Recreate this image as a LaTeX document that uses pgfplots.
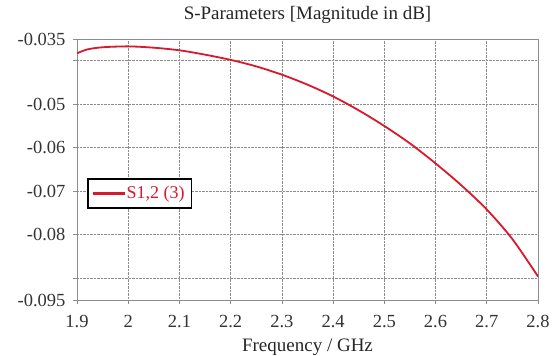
\documentclass[border=0pt]{standalone}
\usepackage{pgfplots}
\pgfplotsset{compat=1.18}
\usepackage{fontspec}
\setmainfont{Liberation Serif}
\definecolor{curvered}{RGB}{215,25,45}
\definecolor{gridgray}{RGB}{140,140,140}
\begin{document}
\fontsize{19}{22}\selectfont
\begin{tikzpicture}
\begin{axis}[
  scale only axis,
  width=461pt, height=261pt,
  xmin=1.9, xmax=2.8,
  ymin=-0.095, ymax=-0.035,
  scaled y ticks=false, scaled x ticks=false,
  xtick={1.9,2.0,2.1,2.2,2.3,2.4,2.5,2.6,2.7,2.8},
  xticklabels={1.9,2,2.1,2.2,2.3,2.4,2.5,2.6,2.7,2.8},
  ytick={-0.095,-0.09,-0.08,-0.07,-0.06,-0.05,-0.04,-0.035},
  yticklabels={-0.095,,-0.08,-0.07,-0.06,-0.05,,-0.035},
  /pgf/number format/assume math mode=true,
  tick label style={font=\fontsize{18.5}{22}\selectfont, text=black!80},
  xticklabel style={yshift=-5pt},
  yticklabel style={xshift=-1pt},
  tick align=outside,
  major tick length=4pt,
  tick style={gridgray, line width=0.6pt},
  axis line style={gridgray, line width=0.8pt},
  xtick pos=bottom, ytick pos=left,
  grid=major,
  grid style={gridgray, densely dotted, line width=0.7pt},
  title={S-Parameters [Magnitude in dB]},
  title style={font=\fontsize{19}{22}\selectfont, text=black!85, at={(0.5,1)}, anchor=south, yshift=3pt},
  xlabel={Frequency / GHz},
  xlabel style={font=\fontsize{19}{22}\selectfont, text=black!85, yshift=2pt},
  legend style={at={(rel axis cs:0.0217,0.467)}, anchor=north west, draw=black, line width=1.6pt, font=\fontsize{18}{20}\selectfont, text=curvered, inner xsep=5pt, inner ysep=5pt, row sep=0pt},
  legend image code/.code={\fill[curvered] (0pt,-1pt) rectangle (30pt,1pt);},
  legend cell align=left,
]
\addplot[curvered, line width=1.8pt, smooth] coordinates {
(1.90,-0.0383) (1.92,-0.0374) (1.95,-0.0369) (2.00,-0.0367) (2.05,-0.0370)
(2.10,-0.0376) (2.15,-0.0386) (2.20,-0.0398) (2.25,-0.0413) (2.30,-0.0432)
(2.35,-0.0455) (2.40,-0.0482) (2.45,-0.0514) (2.50,-0.0550) (2.55,-0.0590)
(2.60,-0.0636) (2.65,-0.0686) (2.70,-0.0742) (2.75,-0.0810) (2.80,-0.0896)
};
\addlegendentry{S1,2 (3)}
\end{axis}
\pgfresetboundingbox
\useasboundingbox (-77pt,-56pt) rectangle (481pt,300pt);
\end{tikzpicture}
\end{document}
